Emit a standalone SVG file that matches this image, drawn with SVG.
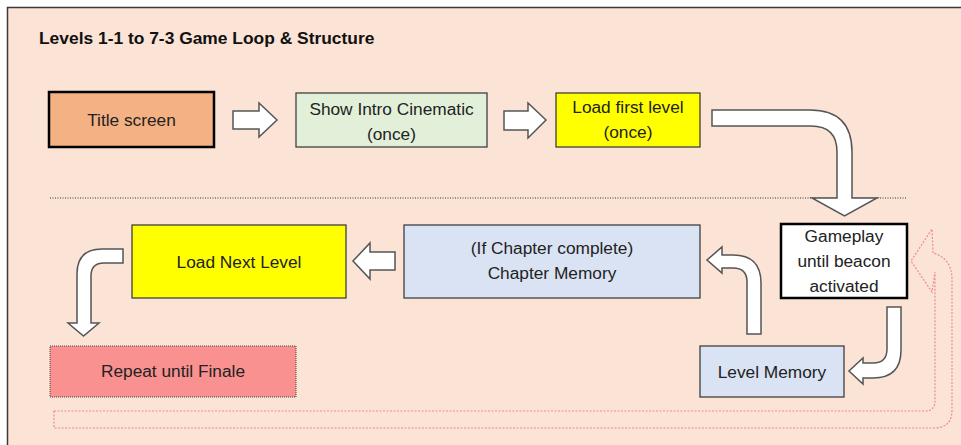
<svg xmlns="http://www.w3.org/2000/svg" width="961" height="445" viewBox="0 0 961 445">
  <defs>
    <style>
      .lbl { font-family: "Liberation Sans", Arial, sans-serif; font-size: 17.3px; fill: #222; text-anchor: middle; }
      .title { font-family: "Liberation Sans", Arial, sans-serif; font-size: 17.4px; font-weight: bold; fill: #111; }
      .box { stroke: #404040; stroke-width: 1.3; }
      .boxb { stroke: #000; stroke-width: 2.5; }
      .arr { fill: #fff; stroke: #555; stroke-width: 1.5; stroke-linejoin: miter; }
    </style>
  </defs>
  <rect x="0" y="0" width="961" height="445" fill="#ffffff"/>
  <rect x="7.5" y="7.5" width="962" height="446" fill="#FBE3D6" stroke="#3a3a3a" stroke-width="1.5"/>
  <text class="title" x="39" y="44">Levels 1-1 to 7-3 Game Loop &amp; Structure</text>
  <line x1="50" y1="198" x2="907" y2="198" stroke="#333" stroke-width="1" stroke-dasharray="1 1.5"/>

  <g id="title-screen">
    <rect class="boxb" x="49" y="92" width="165" height="55" fill="#F4B183"/>
    <text class="lbl" x="131.5" y="126">Title screen</text>
  </g>
  <g id="intro">
    <rect class="box" x="296" y="93" width="191" height="54" fill="#E2F0D9"/>
    <text class="lbl" x="391.5" y="115">Show Intro Cinematic</text>
    <text class="lbl" x="391.5" y="140">(once)</text>
  </g>
  <g id="load-first">
    <rect class="box" x="556" y="93" width="144" height="54" fill="#FFFF00"/>
    <text class="lbl" x="628" y="113">Load first level</text>
    <text class="lbl" x="628" y="138">(once)</text>
  </g>
  <g id="gameplay">
    <rect class="boxb" x="781" y="224" width="126" height="74" fill="#FFFFFF"/>
    <text class="lbl" x="844" y="242">Gameplay</text>
    <text class="lbl" x="844" y="267">until beacon</text>
    <text class="lbl" x="844" y="292">activated</text>
  </g>
  <g id="chapter-memory">
    <rect class="box" x="404" y="225" width="296" height="73" fill="#DAE3F3"/>
    <text class="lbl" x="552" y="254">(If Chapter complete)</text>
    <text class="lbl" x="552" y="279">Chapter Memory</text>
  </g>
  <g id="load-next">
    <rect class="box" x="132" y="225" width="214" height="73" fill="#FFFF00"/>
    <text class="lbl" x="239" y="268">Load Next Level</text>
  </g>
  <g id="repeat">
    <rect x="50" y="346" width="246" height="51" fill="#F8918F" stroke="#444" stroke-width="1" stroke-dasharray="1 1"/>
    <text class="lbl" x="173" y="377">Repeat until Finale</text>
  </g>
  <g id="level-memory">
    <rect class="box" x="700" y="346" width="144" height="51" fill="#DAE3F3"/>
    <text class="lbl" x="772" y="378">Level Memory</text>
  </g>

  <g id="connectors">
    <path class="arr" d="M233 111 L259 111 L259 103 L277 120 L259 137 L259 129 L233 129 Z"/>
    <path class="arr" d="M504 111 L528 111 L528 103 L546 120 L528 138 L528 130 L504 130 Z"/>
    <path class="arr" d="M712 110 L810 110 Q852 110 852 152 L852 198 L877 198 L844.5 216 L812 198 L837 198 L837 152 Q837 126 811 126 L712 126 Z"/>
    <path class="arr" d="M887 307 L901 307 L901 350 Q901 378 873 378 L863 378 L863 384 L849 371 L863 358 L863 363 L873 363 Q887 363 887 349 Z"/>
    <path class="arr" d="M761 334 L747 334 L747 282 Q747 268 733 268 L722 268 L722 273 L707 260 L722 247 L722 255 L733 255 Q761 255 761 283 Z"/>
    <path class="arr" d="M395 252 L370 252 L370 243 L353 261 L370 279 L370 270 L395 270 Z"/>
    <path class="arr" d="M123 249 L102 249 Q77 249 77 274 L77 323 L68 323 L83.5 336 L99 323 L91 323 L91 276 Q91 263 104 263 L123 263 Z"/>
    <path d="M54 411 L925 411 Q935 411 935 401 L935 272 L932 292 L911 261 L932 229 L933 253 Q952 258 952 280 L952 410 Q952 428 934 428 L54 428 Z" fill="none" stroke="#EF8C8C" stroke-width="1.2" stroke-dasharray="2 1.5"/>
  </g>
</svg>
